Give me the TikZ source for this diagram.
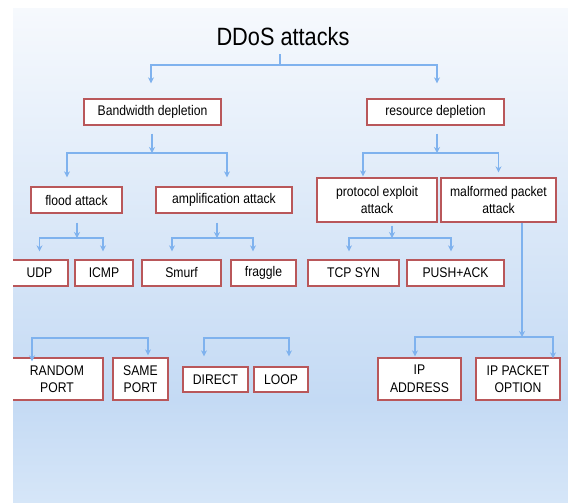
\documentclass[tikz,border=0pt]{standalone}
\usepackage{fontspec}
\setmainfont[FakeStretch=0.87]{Liberation Sans}
\usetikzlibrary{arrows.meta}

\definecolor{linkBlue}{HTML}{7FB2EE}
\definecolor{boxRed}{HTML}{B9575A}
\definecolor{bgTop}{HTML}{F6F9FD}
\definecolor{bgMid}{HTML}{C4DAF4}
\definecolor{bgLow}{HTML}{D6E6F8}

\begin{document}
\begin{tikzpicture}[x=1pt, y=-1pt,
    box/.style={draw=boxRed, line width=1.3pt, fill=white, inner sep=0pt,
        minimum height=26pt, align=center,
        font=\fontsize{14}{17.5}\selectfont},
    boxtwo/.style={box, minimum height=42pt},
    arr/.style={draw=linkBlue, line width=1.2pt,
        -{Stealth[length=6pt, width=6pt]}},
]
\useasboundingbox (0,0) rectangle (568,503);

% Background gradient
\fill[top color=bgTop, bottom color=bgMid] (13,9) rectangle (568,400);
\fill[top color=bgMid, bottom color=bgLow] (13,400) rectangle (568,503);

% Title
\node[inner sep=0pt, anchor=base, font=\fontsize{25}{28}\selectfont]
    (title) at (283,46) {DDoS attacks};

% Level 1
\node[box, minimum width=137pt] (bw) at (152.5,112) {Bandwidth depletion};
\node[box, minimum width=137pt] (rd) at (435.5,112) {resource depletion};

% Level 2
\node[box, minimum width=91pt]  (flood) at (76.5,200) {flood attack};
\node[box, minimum width=136pt] (ampl)  at (224,200)  {amplification attack};
\node[boxtwo, minimum height=44pt, minimum width=120pt]
    (proto) at (377,200) {protocol exploit\\attack};
\node[boxtwo, minimum height=44pt, minimum width=115pt]
    (malf) at (498.5,200) {malformed packet\\attack};

% Level 3
\node[box, minimum width=57pt] (udp)     at (39.5,273)  {UDP};
\node[box, minimum width=58pt] (icmp)    at (104,273)   {ICMP};
\node[box, minimum width=79pt] (smurf)   at (181.5,273) {Smurf};
\node[box, minimum width=65pt] (fraggle) at (263.5,273) {fraggle};
\node[box, minimum width=91pt] (tcp)     at (353.5,273) {TCP SYN};
\node[box, minimum width=97pt] (push)    at (455.5,273) {PUSH+ACK};

% Level 4
\node[boxtwo, minimum width=92pt] (random) at (57,379)    {RANDOM\\PORT};
\node[boxtwo, minimum width=55pt] (same)   at (140.5,379) {SAME\\PORT};
\node[box, minimum height=25pt, minimum width=65pt]
    (direct) at (215.5,379.5) {DIRECT};
\node[box, minimum height=25pt, minimum width=54pt]
    (loop) at (281,379.5) {LOOP};
\node[boxtwo, minimum width=83pt] (ipaddr) at (419.5,379) {IP\\ADDRESS};
\node[boxtwo, minimum width=84pt] (ipopt)  at (518,379)   {IP PACKET\\OPTION};

% Root to level 1
\coordinate (rootj) at (280,65);
\draw[arr, -, shorten <=8pt] (title.south -| rootj) -- (rootj);
\draw[arr, shorten >=15pt] (rootj) -| ([xshift=-1.5pt]bw.north);
\draw[arr, shorten >=15pt] (rootj) -| ([xshift=1.5pt]rd.north);

% Bandwidth depletion branch
\coordinate (bwj) at (152,153);
\draw[arr, shorten <=8pt] (bw.south -| bwj) -- (bwj);
\draw[arr, shorten >=9pt] (bwj) -| ([xshift=-9.5pt]flood.north);
\draw[arr, shorten >=9pt] (bwj) -| ([xshift=3pt]ampl.north);

% Resource depletion branch
\coordinate (rdj) at (437,153);
\draw[arr, shorten <=8pt] (rd.south -| rdj) -- (rdj);
\draw[arr, shorten >=1pt] (rdj) -| ([xshift=-14pt]proto.north);
\draw[arr, shorten >=5pt] (rdj) -| (malf.north);

% Flood and amplification
\coordinate (flj) at (77,238);
\draw[arr, shorten <=9pt] (flood.south -| flj) -- (flj);
\draw[arr, shorten >=8pt] (flj) -| (udp.north);
\draw[arr, shorten >=8pt] (flj) -| ([xshift=-1pt]icmp.north);
\coordinate (amj) at (217,238);
\draw[arr, shorten <=9pt] (ampl.south -| amj) -- (amj);
\draw[arr, shorten >=8pt] (amj) -| ([xshift=-9.5pt]smurf.north);
\draw[arr, shorten >=8pt] (amj) -| ([xshift=-10.5pt]fraggle.north);

% Protocol exploit
\coordinate (prj) at (392,238);
\draw[arr, shorten <=3pt] (proto.south -| prj) -- (prj);
\draw[arr, shorten >=8pt] (prj) -| ([xshift=-4.5pt]tcp.north);
\draw[arr, shorten >=8pt] (prj) -| ([xshift=-4.5pt]push.north);

% Malformed packet
\coordinate (mfj) at (522,337);
\draw[arr] (malf.south -| mfj) -- (mfj);
\draw[arr, shorten >=1pt] (mfj) -| ([xshift=-4.5pt]ipaddr.north);
\draw[arr, shorten >=-1pt] (mfj) -| ([xshift=35pt]ipopt.north);

% Port and reflection brackets
\coordinate (rsj) at (90,338);
\draw[arr, -] (rsj) -- ++(-58,0);
\draw[arr, shorten >=-4pt] (rsj) -| ([xshift=-25pt]random.north);
\draw[arr, shorten >=2pt] (rsj) -| ([xshift=7.5pt]same.north);
\coordinate (dlj) at (246,338);
\draw[arr, shorten >=10pt] (dlj) -| ([xshift=-11.5pt]direct.north);
\draw[arr, shorten >=10pt] (dlj) -| ([xshift=8pt]loop.north);

% White margin on the left
\fill[white] (0,0) rectangle (13,503);

\end{tikzpicture}
\end{document}
